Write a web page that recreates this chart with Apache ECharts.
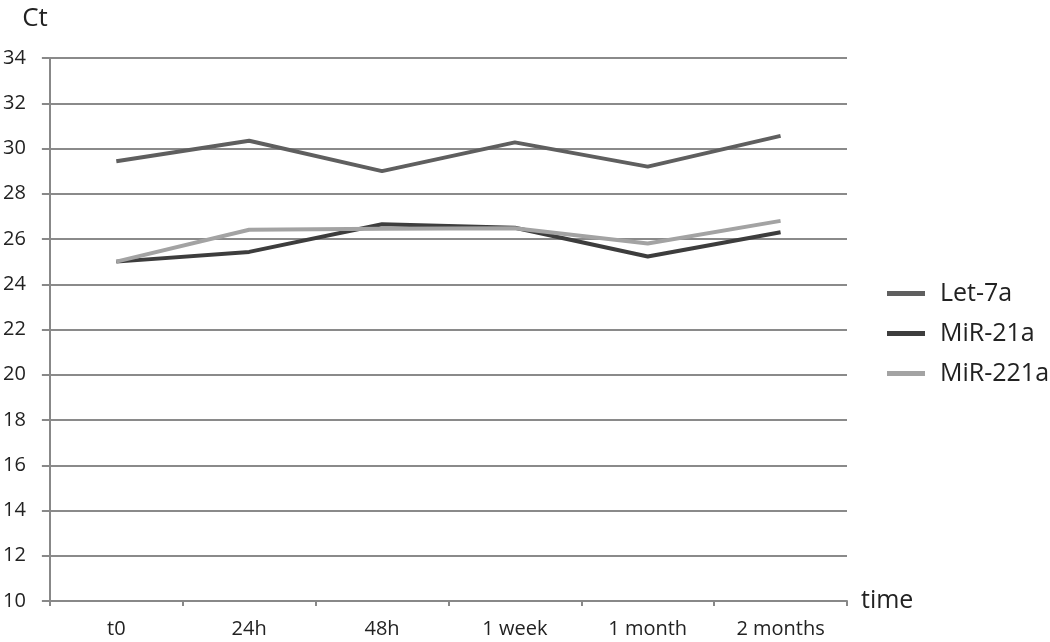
<!DOCTYPE html>
<html>
<head>
<meta charset="utf-8">
<script src="https://cdn.jsdelivr.net/npm/echarts@6/dist/echarts.min.js"></script>
<style>html,body{margin:0;padding:0;background:#fff}#c{width:1050px;height:642px}</style>
</head>
<body>
<div id="c"></div>
<script>
const categories = ['t0', '24h', '48h', '1 week', '1 month', '2 months'];
const let7a = [29.44, 30.34, 29.0, 30.27, 29.2, 30.56];
const mir21a = [25.0, 25.43, 26.65, 26.5, 25.23, 26.3];
const mir221a = [25.0, 26.41, 26.45, 26.48, 25.8, 26.8];
const yTicks = {min: 10, max: 34, interval: 2};

const chart = echarts.init(document.getElementById('c'));
const font = '"Open Sans", "Noto Sans", sans-serif';
function line(name, data, color) {
  return {name, type: 'line', data, symbol: 'none', lineStyle: {color, width: 4}, itemStyle: {color}};
}
chart.setOption({
  animation: false,
  textStyle: {fontFamily: font},
  grid: {left: 49, right: 203, top: 58, bottom: 41, containLabel: false},
  legend: {
    orient: 'vertical', left: 882, top: 276, itemWidth: 38, itemHeight: 5, itemGap: 15,
    icon: 'rect',
    textStyle: {fontSize: 25, color: '#222', fontFamily: font, padding: [0, 0, 0, 10]},
    data: ['Let-7a', 'MiR-21a', 'MiR-221a']
  },
  xAxis: {
    type: 'category', data: categories, boundaryGap: true,
    name: 'time', nameLocation: 'end', nameGap: 14,
    nameTextStyle: {fontSize: 25, color: '#222', verticalAlign: 'middle', padding: [8, 0, 0, 0]},
    axisLine: {lineStyle: {color: '#888', width: 2}},
    axisTick: {show: true, length: 5, lineStyle: {color: '#888', width: 2}, alignWithLabel: false},
    axisLabel: {fontSize: 20, color: '#222', margin: 18}
  },
  yAxis: {
    type: 'value', min: yTicks.min, max: yTicks.max, interval: yTicks.interval,
    name: 'Ct', nameLocation: 'end', nameGap: 26,
    nameTextStyle: {fontSize: 26, color: '#222', align: 'right', padding: [0, 2, 0, 0]},
    axisLine: {show: true, lineStyle: {color: '#888', width: 2}},
    axisTick: {show: true, length: 8, lineStyle: {color: '#888', width: 2}},
    axisLabel: {fontSize: 20, color: '#222', margin: 24},
    splitLine: {lineStyle: {color: '#8a8a8a', width: 2}}
  },
  series: [
    line('Let-7a', let7a, '#5f5f5f'),
    line('MiR-21a', mir21a, '#3d3d3d'),
    line('MiR-221a', mir221a, '#a3a3a3')
  ]
});
</script>
</body>
</html>
